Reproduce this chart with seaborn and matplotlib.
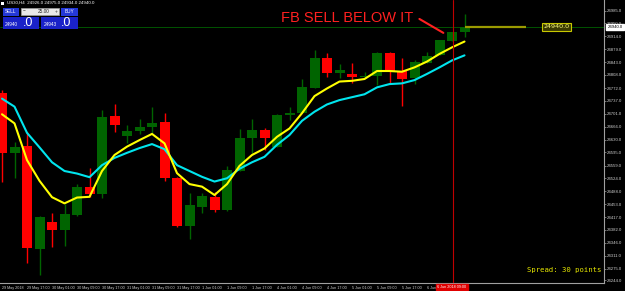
import numpy as np
import pandas as pd
import seaborn as sns
import matplotlib
matplotlib.use("Agg")
import matplotlib.pyplot as plt
from matplotlib.patches import Rectangle
from matplotlib.transforms import blended_transform_factory

# ---------------- data (US30 H4) ----------------
opens = [24758, 24594, 24613, 24329, 24403, 24382, 24423, 24501, 24482, 24695,
         24641, 24653, 24665, 24678, 24525, 24394, 24446, 24473, 24437, 24545,
         24634, 24657, 24611, 24699, 24703, 24773, 24854, 24813, 24811, 24802,
         24806, 24868, 24818, 24799, 24842, 24863, 24902, 24926]
highs = [24767, 24625, 24652, 24420, 24428, 24452, 24508, 24553, 24712, 24728,
         24670, 24688, 24719, 24703, 24527, 24483, 24484, 24487, 24559, 24660,
         24687, 24663, 24700, 24721, 24797, 24877, 24868, 24838, 24842, 24815,
         24872, 24870, 24854, 24849, 24870, 24904, 24925, 24975]
lows = [24515, 24525, 24290, 24258, 24336, 24339, 24421, 24473, 24469, 24650,
        24620, 24645, 24648, 24517, 24390, 24356, 24429, 24432, 24435, 24545,
        24593, 24602, 24611, 24684, 24703, 24773, 24803, 24799, 24785, 24801,
        24780, 24787, 24723, 24782, 24842, 24863, 24902, 24913]
closes = [24594, 24611, 24333, 24418, 24382, 24425, 24500, 24482, 24692, 24670,
          24653, 24665, 24676, 24525, 24394, 24450, 24475, 24437, 24546, 24636,
          24657, 24636, 24698, 24704, 24775, 24854, 24813, 24822, 24803, 24805,
          24868, 24817, 24797, 24845, 24861, 24904, 24925, 24940]
ma_fast = [24700, 24675, 24574, 24517, 24472, 24455, 24471, 24473, 24544, 24588,
           24611, 24629, 24646, 24620, 24538, 24508, 24501, 24478, 24508, 24558,
           24588, 24606, 24638, 24661, 24703, 24750, 24771, 24790, 24792, 24797,
           24819, 24819, 24817, 24829, 24845, 24866, 24884, 24900]
ma_slow = [24743, 24721, 24649, 24609, 24568, 24544, 24537, 24527, 24560, 24580,
           24594, 24607, 24618, 24604, 24560, 24544, 24528, 24515, 24524, 24550,
           24568, 24583, 24616, 24643, 24682, 24707, 24727, 24739, 24747, 24755,
           24774, 24783, 24785, 24794, 24811, 24829, 24848, 24862]
time_labels = ["29 May 2018", "29 May 17:00", "30 May 01:00", "30 May 09:00",
               "30 May 17:00", "31 May 01:00", "31 May 09:00", "31 May 17:00",
               "1 Jun 01:00", "1 Jun 09:00", "1 Jun 17:00", "4 Jun 01:00",
               "4 Jun 09:00", "4 Jun 17:00", "5 Jun 01:00", "5 Jun 09:00",
               "5 Jun 17:00", "6 Jun 01:00"]
price_ticks = [24985, 24950, 24914, 24879, 24843, 24808, 24772, 24737, 24701,
               24666, 24630, 24595, 24559, 24524, 24488, 24453, 24417, 24382,
               24346, 24311, 24275, 24244]
bid = 24940.0
ask = 24943.0
header = "US30,H4  24926.0 24975.0 24934.0 24940.0"
annotation = "FB SELL BELOW IT"
cursor_label = "6 Jun 2018 09:00"
cursor_bar = 36

# ---------------- style ----------------
sns.set_theme(style="dark")
plt.rcParams["font.family"] = ["Liberation Sans", "DejaVu Sans"]

W, H = 625, 291
fig = plt.figure(figsize=(W / 100, H / 100), dpi=100, facecolor="black")
ax = fig.add_axes([0, 8 / H, 604 / W, 1 - 8 / H])
ax.set_facecolor("black")

def fx(px):
    return px / W

def fy(py):
    return 1 - py / H

idx = np.arange(len(opens))
o = np.array(opens, float); c = np.array(closes, float)
hi = np.array(highs, float); lo = np.array(lows, float)
up = c >= o
cols = np.where(up, "#006400", "#ff0000")
bottom = np.minimum(o, c)
height = np.maximum(np.abs(c - o), 2.75)

ax.vlines(idx, lo, hi, colors=cols, linewidth=1.0, zorder=2)
ax.bar(idx, height, bottom=bottom, width=0.8, color=cols, linewidth=0, zorder=3)

sns.lineplot(x=idx, y=ma_slow, ax=ax, color="#00e5ee", linewidth=1.5,
             estimator=None, sort=False, zorder=4)
sns.lineplot(x=idx, y=ma_fast, ax=ax, color="#ffff00", linewidth=1.5,
             estimator=None, sort=False, zorder=5)

ax.set_xlim(-0.16, 48.16)
ax.set_ylim(24236, 25014.25)

# bid line
ax.axhline(bid, color="#006000", linewidth=0.6, zorder=1)
ax.hlines(bid, len(opens) - 1, len(opens) - 1 + 4.9, color="#9a9a00",
          linewidth=1.6, zorder=6)
ax.text(len(opens) - 1 + 6.3, bid, f"{bid:.1f}", fontsize=4.6, color="#ffff80",
        ha="left", va="center", zorder=7, family="DejaVu Sans",
        bbox=dict(boxstyle="square,pad=0.25", fc="#3a3a00", ec="#c8c800", lw=0.8))

# cursor line
ax.axvline(cursor_bar + 0.05, color="#c00000", linewidth=0.8, zorder=6)

# annotation
ax.annotate("", xy=(35.5, 24920), xytext=(33.2, 24966),
            arrowprops=dict(arrowstyle="-", color="#ff2020", lw=1.5), zorder=8)
ax.text(32.9, 24965, annotation, fontsize=10.5, color="#ff2020",
        ha="right", va="center", zorder=8)

# spread
ax.text(0.995, 0.035, "Spread: 30 points", transform=ax.transAxes,
        fontsize=5.2, color="#e8e800", family="DejaVu Sans Mono",
        ha="right", va="bottom")

# axes styling
for s in ["left", "top"]:
    ax.spines[s].set_visible(False)
for s in ["right", "bottom"]:
    ax.spines[s].set_color("#a0a0a0")
    ax.spines[s].set_linewidth(0.8)
ax.grid(False)
ax.yaxis.tick_right()
ax.set_yticks(price_ticks)
ax.set_yticklabels([f"{v:.1f}" for v in price_ticks])
ax.tick_params(axis="y", colors="#a0a0a0", labelcolor="#d0d0d0", labelsize=3.1,
               length=1.5, width=0.5, pad=0.8, direction="out")
ax.set_xticks(idx[::2][:len(time_labels)])
ax.set_xticklabels(time_labels, ha="left")
ax.tick_params(axis="x", colors="#a0a0a0", labelcolor="#d0d0d0", labelsize=2.7,
               length=1.5, width=0.5, pad=0.5, direction="out")
ax.set_xlabel(""); ax.set_ylabel("")

# current price box on scale
btr = blended_transform_factory(ax.transAxes, ax.transData)
ax.text(1.006, bid, f"{bid:.1f}", transform=btr, fontsize=3.1, color="black",
        ha="left", va="center", clip_on=False, zorder=9,
        bbox=dict(boxstyle="square,pad=0.3", fc="white", ec="white"))

# cursor time label
bxt = blended_transform_factory(ax.transData, ax.transAxes)
ax.text(cursor_bar, -0.008, cursor_label, transform=bxt, fontsize=2.7,
        color="white", ha="center", va="top", clip_on=False, zorder=9,
        bbox=dict(boxstyle="square,pad=0.3", fc="#e00000", ec="#e00000"))

# header
fig.text(fx(7), fy(2.6), header, fontsize=3.2, color="white", va="center")
fig.add_artist(Rectangle((fx(1), fy(4.5)), fx(3), 3 / H, transform=fig.transFigure,
                         fc="white", ec="none"))

# one click trading panel
def box(x0, y0, x1, y1, fc, ec="none"):
    fig.add_artist(Rectangle((fx(x0), fy(y1)), fx(x1 - x0), (y1 - y0) / H,
                             transform=fig.transFigure, fc=fc, ec=ec, lw=0.5, zorder=10))

box(2.7, 7.7, 19.3, 15.7, "#2438d8")
box(20.7, 7.7, 59.3, 15.0, "#e8e8e8", "#a0a0a0")
box(60.7, 7.7, 78.3, 15.7, "#2438d8")
box(2.7, 16.7, 39.3, 29.3, "#1a22c8")
box(40.7, 16.7, 78.3, 29.3, "#1a22c8")
fig.text(fx(11), fy(11.7), "SELL", fontsize=3.4, color="white", ha="center", va="center", zorder=11)
fig.text(fx(69.5), fy(11.7), "BUY", fontsize=3.4, color="white", ha="center", va="center", zorder=11)
fig.text(fx(24), fy(11.3), "\u2212", fontsize=3.4, color="#404040", ha="center", va="center", zorder=11)
fig.text(fx(56), fy(11.3), "+", fontsize=3.4, color="#404040", ha="center", va="center", zorder=11)
fig.text(fx(44), fy(11.3), "25.00", fontsize=3.4, color="#202020", ha="center", va="center", zorder=11)
fig.text(fx(5), fy(25.5), f"{int(bid)}", fontsize=3.4, color="white", ha="left", va="baseline", zorder=11)
fig.text(fx(23), fy(25.5), ".0", fontsize=9, color="white", ha="left", va="baseline", zorder=11)
fig.text(fx(44), fy(25.5), f"{int(ask)}", fontsize=3.4, color="white", ha="left", va="baseline", zorder=11)
fig.text(fx(61), fy(25.5), ".0", fontsize=9, color="white", ha="left", va="baseline", zorder=11)

fig.savefig("out.png", dpi=100, facecolor="black")
